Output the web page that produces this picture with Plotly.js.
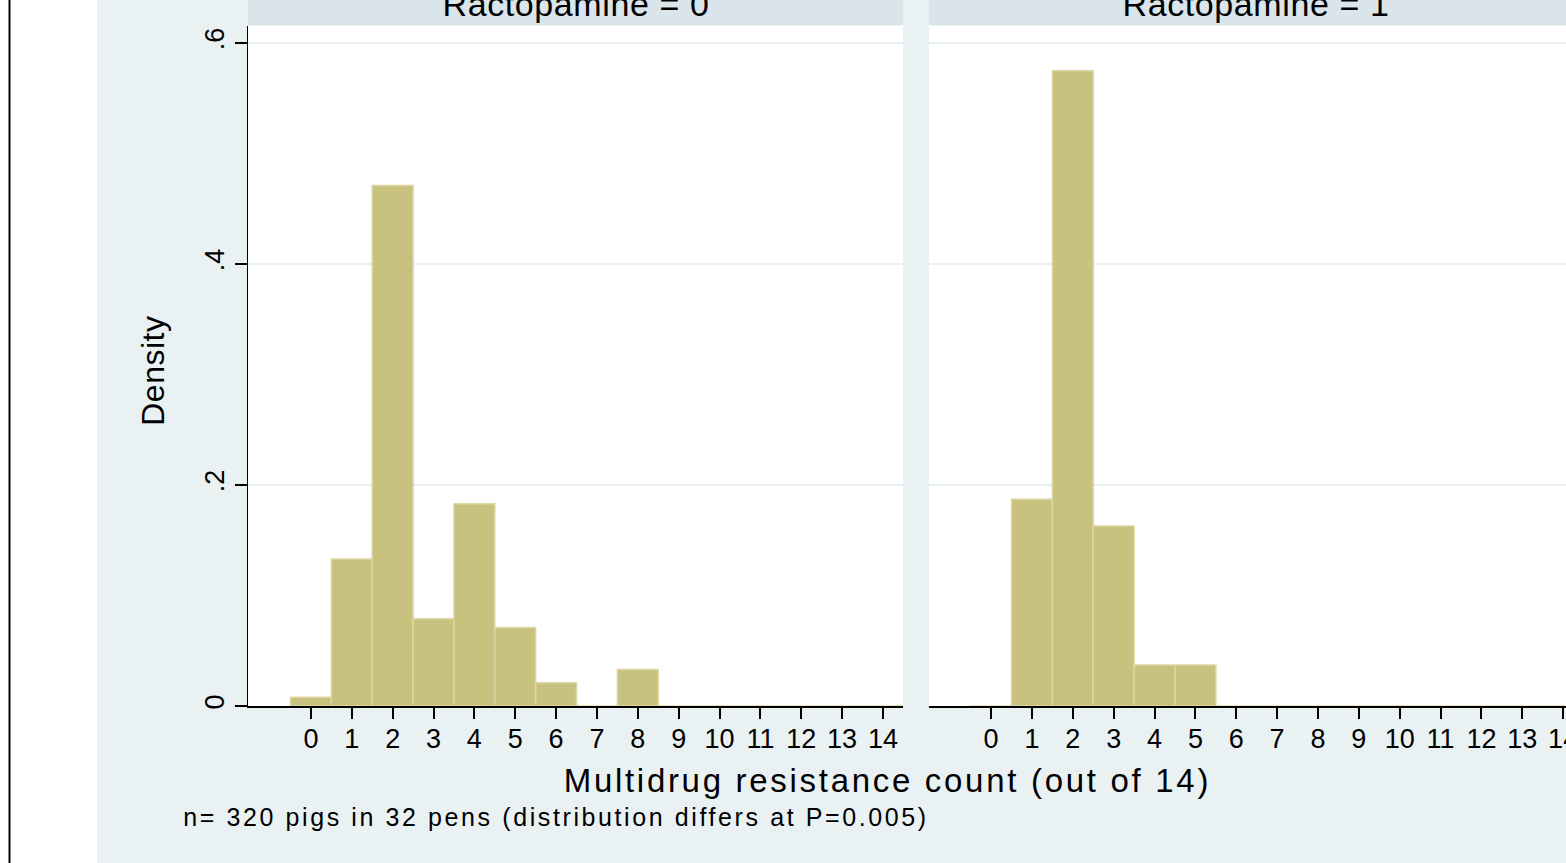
<!DOCTYPE html>
<html>
<head>
<meta charset="utf-8">
<script src="https://cdn.plot.ly/plotly-3.0.1.min.js"></script>
<style>
html,body{margin:0;padding:0;overflow:hidden;background:#fff;}
#chart .annotation[data-index="0"] text, #chart .annotation[data-index="1"] text {letter-spacing:0.6px;}
#chart .annotation[data-index="2"] text {letter-spacing:0.5px;}
#chart .annotation[data-index="3"] text {letter-spacing:2.7px;}
#chart .annotation[data-index="4"] text {letter-spacing:2.6px;}
</style>
</head>
<body>
<div id="chart" style="width:1566px;height:863px;"></div>
<script>
// Data
const bins = [0,1,2,3,4,5,6,7,8,9,10,11,12,13,14];
const densityRacto0 = [0.008,0.133,0.471,0.079,0.183,0.071,0.021,0,0.033,0,0,0,0,0,0];
const densityRacto1 = [0,0.187,0.575,0.163,0.037,0.037,0,0,0,0,0,0,0,0,0];
const panelTitles = ["Ractopamine = 0", "Ractopamine = 1"];
const yTickVals = [0, 0.2, 0.4, 0.6];
const yTickText = ["0", ".2", ".4", ".6"];
const xTitle = "Multidrug resistance count (out of 14)";
const yTitle = "Density";
const note = "n= 320 pigs in 32 pens (distribution differs at P=0.005)";

// geometry helpers (pixel -> paper)
const L = 248, R = 1566, T = 26, B = 706;
const px = x => (x - L) / (R - L);
const py = y => (B - y) / (B - T);

const barStyle = {color: '#C9C27F', line: {color: '#DCD7A2', width: 1.5}};
const font = 'Liberation Sans, Arial, sans-serif';

const traces = [
  {type: 'bar', x: bins, y: densityRacto0, width: 1, marker: barStyle, xaxis: 'x', yaxis: 'y', hoverinfo: 'x+y', showlegend: false},
  {type: 'bar', x: bins, y: densityRacto1, width: 1, marker: barStyle, xaxis: 'x2', yaxis: 'y2', hoverinfo: 'x+y', showlegend: false}
];

const xCommon = {
  tickmode: 'array', tickvals: bins, ticktext: bins.map(String),
  ticks: 'outside', ticklen: 11, tickwidth: 2, tickcolor: '#000',
  showline: true, linecolor: '#000', linewidth: 1.5,
  showgrid: false, zeroline: false,
  ticklabelstandoff: -3, ticklabeloverflow: 'allow',
  tickfont: {family: font, size: 27, color: '#000'}
};
const yCommon = {
  range: [0, 0.6154], tickmode: 'array', tickvals: yTickVals, ticktext: yTickText,
  showgrid: true, gridcolor: '#E6EFF1', gridwidth: 2, zeroline: false
};

const layout = {
  width: 1566, height: 863,
  margin: {l: L, r: 0, t: T, b: 863 - B, pad: 0},
  paper_bgcolor: '#EAF1F3',
  plot_bgcolor: '#FFFFFF',
  bargap: 0,
  xaxis: Object.assign({}, xCommon, {domain: [0, px(903)], range: [-1.54, 14.49], anchor: 'y'}),
  xaxis2: Object.assign({}, xCommon, {domain: [px(929), 1], range: [-1.52, 14.07], anchor: 'y2'}),
  yaxis: Object.assign({}, yCommon, {
    anchor: 'x', showline: true, linecolor: '#000', linewidth: 1.5,
    ticks: 'outside', ticklen: 12, tickwidth: 2, tickcolor: '#000', tickangle: -90,
    tickfont: {family: font, size: 27, color: '#000'}
  }),
  yaxis2: Object.assign({}, yCommon, {anchor: 'x2', showline: false, ticks: '', showticklabels: false}),
  shapes: [
    {type: 'rect', xref: 'paper', yref: 'paper', x0: px(0), x1: px(97), y0: py(863), y1: py(0), fillcolor: '#FFFFFF', line: {width: 0}, layer: 'below'},
    {type: 'line', xref: 'paper', yref: 'paper', x0: px(9.5), x1: px(9.5), y0: py(863), y1: py(0), line: {color: '#000', width: 2}},
    {type: 'rect', xref: 'paper', yref: 'paper', x0: 0, x1: px(903), y0: py(25), y1: py(0), fillcolor: '#D9E5EB', line: {width: 0}},
    {type: 'rect', xref: 'paper', yref: 'paper', x0: px(929), x1: 1, y0: py(25), y1: py(0), fillcolor: '#D9E5EB', line: {width: 0}}
  ],
  annotations: [
    {text: panelTitles[0], xref: 'paper', yref: 'paper', x: px(576), y: py(4), xanchor: 'center', yanchor: 'middle', showarrow: false, font: {family: font, size: 34, color: '#000'}},
    {text: panelTitles[1], xref: 'paper', yref: 'paper', x: px(1256), y: py(4), xanchor: 'center', yanchor: 'middle', showarrow: false, font: {family: font, size: 34, color: '#000'}},
    {text: yTitle, xref: 'paper', yref: 'paper', x: px(153), y: py(371), xanchor: 'center', yanchor: 'middle', textangle: -90, showarrow: false, font: {family: font, size: 32, color: '#000'}},
    {text: xTitle, xref: 'paper', yref: 'paper', x: px(887), y: py(780), xanchor: 'center', yanchor: 'middle', showarrow: false, font: {family: font, size: 33, color: '#000'}},
    {text: note, xref: 'paper', yref: 'paper', x: px(254), y: py(817), xanchor: 'left', yanchor: 'middle', showarrow: false, font: {family: font, size: 25, color: '#000'}}
  ]
};

Plotly.newPlot('chart', traces, layout, {displayModeBar: false, staticPlot: true});
</script>
</body>
</html>
